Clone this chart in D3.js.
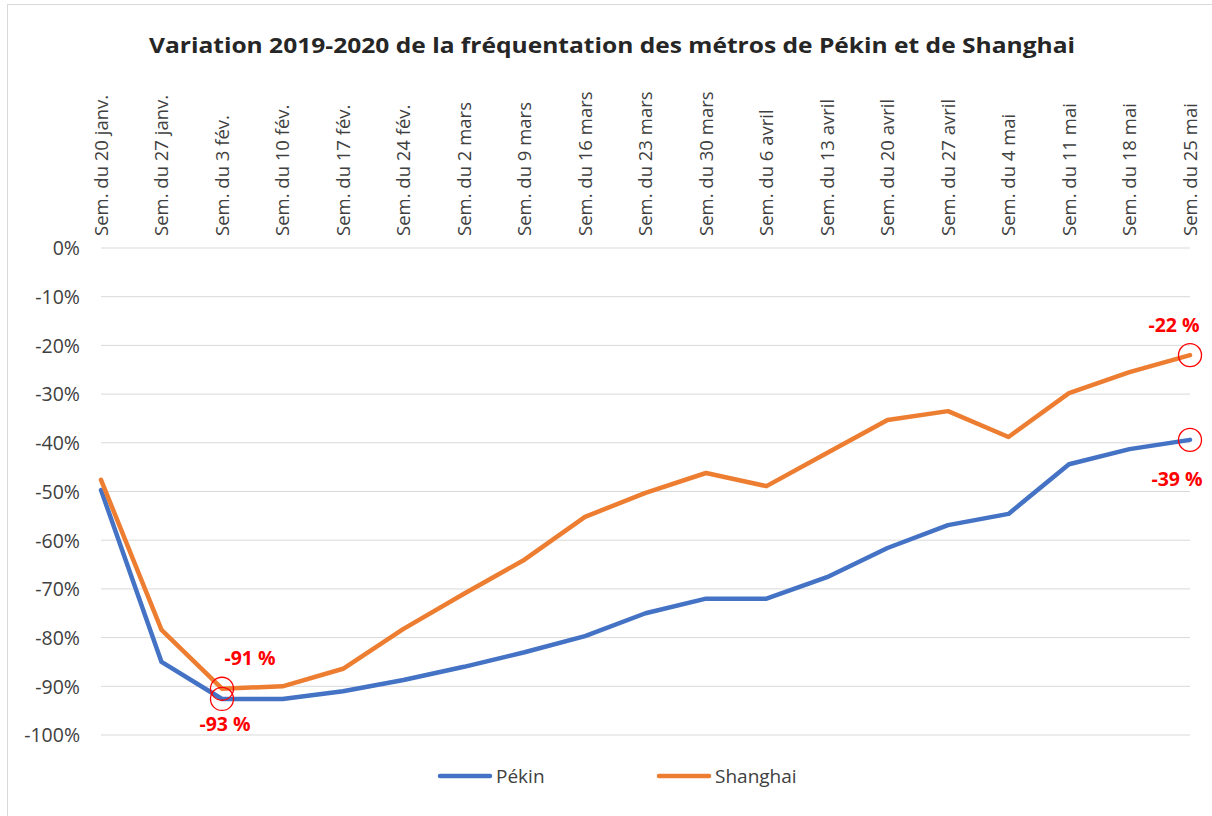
<!DOCTYPE html>
<html>
<head>
<meta charset="utf-8">
<script src="https://cdn.jsdelivr.net/npm/d3@7"></script>
<style>
	body { margin: 0; background: #fff; }
	svg text { font-family: "Open Sans", sans-serif; }
</style>
</head>
<body>
<div class="container"></div>
<script>

const weeks = ["Sem. du 20 janv.", "Sem. du 27 janv.", "Sem. du 3 fév.", "Sem. du 10 fév.", "Sem. du 17 fév.",
	"Sem. du 24 fév.", "Sem. du 2 mars", "Sem. du 9 mars", "Sem. du 16 mars", "Sem. du 23 mars",
	"Sem. du 30 mars", "Sem. du 6 avril", "Sem. du 13 avril", "Sem. du 20 avril", "Sem. du 27 avril",
	"Sem. du 4 mai", "Sem. du 11 mai", "Sem. du 18 mai", "Sem. du 25 mai"];

const pekin = [-49.7, -85, -92.6, -92.6, -91, -88.7, -86, -83, -79.7, -75,
	-72, -72, -67.6, -61.6, -56.9, -54.6, -44.4, -41.3, -39.4];

const shanghai = [-47.6, -78.4, -90.5, -90, -86.4, -78.2, -71, -64, -55.2, -50.3,
	-46.2, -48.9, -42.1, -35.3, -33.5, -38.8, -29.8, -25.5, -22];

const yTicks = [0, -10, -20, -30, -40, -50, -60, -70, -80, -90, -100];

// annotated points: series, week index, label, label offset
const notes = [
	{ serie: "shanghai", index: 2, label: "-91 %", dx: 28, dy: -31 },
	{ serie: "pekin", index: 2, label: "-93 %", dx: 3, dy: 25 },
	{ serie: "shanghai", index: 18, label: "-22 %", dx: -16, dy: -30 },
	{ serie: "pekin", index: 18, label: "-39 %", dx: -13, dy: 39 }
];

const width = 1212, height = 816;

const svg = d3.select(".container").append("svg")
	.attr("width", width)
	.attr("height", height);

// chart frame
svg.append("rect")
	.attr("x", 7.5).attr("y", 4.5)
	.attr("width", width + 10).attr("height", height + 10)
	.style("fill", "none")
	.style("stroke", "#d9d9d9");

const x = d3.scalePoint()
	.domain(weeks)
	.range([101, 1190]);

const y = d3.scaleLinear()
	.domain([-100, 0])
	.range([735, 248]);

// title
svg.append("text")
	.attr("x", 612)
	.attr("y", 53)
	.attr("text-anchor", "middle")
	.attr("textLength", 926)
	.attr("lengthAdjust", "spacingAndGlyphs")
	.style("font-size", "22px")
	.style("font-weight", "bold")
	.style("fill", "#262626")
	.text("Variation 2019-2020 de la fréquentation des métros de Pékin et de Shanghai");

// grid
svg.append("g")
	.selectAll("line")
		.data(yTicks).enter()
	.append("line")
		.attr("x1", 101)
		.attr("x2", 1190)
		.attr("y1", (d) => y(d))
		.attr("y2", (d) => y(d))
		.style("stroke", "#d9d9d9")
		.style("stroke-width", 1);

// y axis labels
const yAxis = svg.append("g")
	.attr("transform", "translate(80,0)")
	.call(d3.axisLeft(y).tickValues(yTicks).tickSize(0).tickPadding(0).tickFormat((d) => `${d}%`));
yAxis.select(".domain").remove();
yAxis.selectAll("text")
	.attr("dy", "0.35em")
	.style("font-family", "'Open Sans', sans-serif")
	.style("font-size", "19.5px")
	.style("fill", "#404040");

// x axis labels (rotated)
const xAxis = svg.append("g")
	.attr("transform", "translate(0,236)")
	.call(d3.axisTop(x).tickSize(0).tickPadding(0));
xAxis.select(".domain").remove();
xAxis.selectAll("text")
	.attr("transform", "rotate(-90)")
	.attr("text-anchor", "start")
	.attr("x", 0)
	.attr("y", 0)
	.attr("dy", "0.35em")
	.style("font-family", "'Open Sans', sans-serif")
	.style("font-size", "18.5px")
	.style("fill", "#404040");

// lines
const series = [
	{ name: "pekin", label: "Pékin", values: pekin, color: "#4472c4" },
	{ name: "shanghai", label: "Shanghai", values: shanghai, color: "#ed7d31" }
];

const line = d3.line()
	.x((d, i) => x(weeks[i]))
	.y((d) => y(d));

svg.append("g")
	.selectAll("path")
		.data(series).enter()
	.append("path")
		.attr("d", (d) => line(d.values))
		.style("fill", "none")
		.style("stroke", (d) => d.color)
		.style("stroke-width", 4.5)
		.style("stroke-linejoin", "round")
		.style("stroke-linecap", "round");

// annotations
const notesG = svg.append("g")
	.selectAll("g")
		.data(notes).enter()
	.append("g")
		.attr("transform", (d) => {
			const s = series.find((e) => e.name === d.serie);
			return `translate(${x(weeks[d.index])},${y(s.values[d.index])})`;
		});

notesG.append("circle")
	.attr("r", 11.5)
	.style("fill", "none")
	.style("stroke", "#ff0000")
	.style("stroke-width", 1.3);

notesG.append("text")
	.attr("x", (d) => d.dx)
	.attr("y", (d) => d.dy)
	.attr("text-anchor", "middle")
	.attr("dy", "0.35em")
	.style("font-size", "19.5px")
	.style("font-weight", "bold")
	.style("fill", "#ff0000")
	.text((d) => d.label);

// legend
const legend = svg.append("g")
	.selectAll("g")
		.data(series).enter()
	.append("g")
		.attr("transform", (d, i) => `translate(${i === 0 ? 440 : 659},776)`);

legend.append("line")
	.attr("x1", 0)
	.attr("x2", 50)
	.style("stroke", (d) => d.color)
	.style("stroke-width", 4.5)
	.style("stroke-linecap", "round");

legend.append("text")
	.text((d) => d.label)
	.attr("x", 56)
	.attr("dy", "0.35em")
	.style("font-size", "19px")
	.style("fill", "#404040");

</script>
</body>
</html>
